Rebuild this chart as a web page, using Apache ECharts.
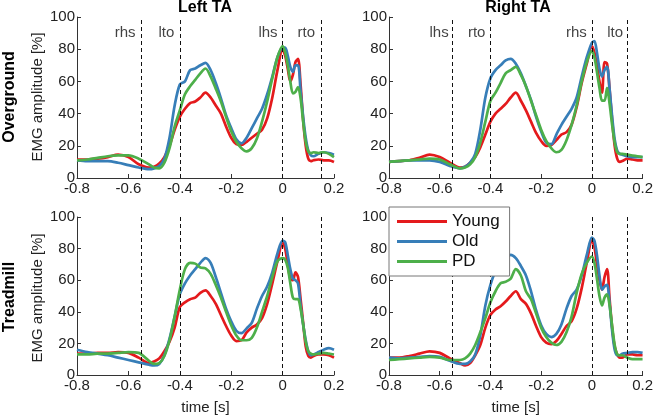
<!DOCTYPE html>
<html>
<head>
<meta charset="utf-8">
<script src="https://cdn.jsdelivr.net/npm/echarts@6/dist/echarts.min.js"></script>
<style>html,body{margin:0;padding:0;background:#fff}#c{width:656px;height:416px}</style>
</head>
<body>
<div id="c"></div>
<script>
// ---------- data ----------
const time = [-0.8,-0.76,-0.72,-0.68,-0.64,-0.6,-0.56,-0.52,-0.5,-0.48,-0.46,-0.44,-0.42,-0.4,-0.38,-0.36,-0.34,-0.32,-0.3,-0.28,-0.26,-0.24,-0.22,-0.2,-0.18,-0.16,-0.14,-0.12,-0.1,-0.08,-0.06,-0.04,-0.02,0,0.01,0.02,0.03,0.04,0.05,0.06,0.07,0.08,0.09,0.1,0.11,0.12,0.14,0.16,0.18,0.2];

const groups = ['Young','Old','PD'];
const columns = ['Left TA','Right TA'];
const rows = ['Overground','Treadmill'];

// Overground, Left TA
const ogLeftYoung = [11.5,11.5,12,13,14.5,13,8.5,6.5,7,9,13,20,30,38,43,46.5,47.5,50,53,50,45,40,32,25,21,20.5,22.5,25,27.5,30,37,50,67,80,76,68,60,64,72,74,58,36,20,12,10.5,11,11.5,11,11,10];
const ogLeftOld = [11,10.5,10.5,10.5,9.5,8,6.5,5.5,6,7.5,12,25,45,58,60,67,68,70,71.5,67,59,49.5,39,31,24,21.5,25,31,37,43,52,63,75,81,81,76,69,66,70,70,54,38,25,17,14,13.5,15,16,15.5,14.5];
const ogLeftPD = [11,11.5,12.5,13.5,14,14,12,8.5,6.5,6,9.5,18.5,32,42,52,57,61,65,68,63,55.5,47.5,38,29,22.5,18.5,16.5,18.5,24.5,35,47.5,62,75,82,78,70,60,52.5,53.5,56.5,49.5,35,22.5,16.5,15.5,16,15.5,16,15,13];

// Overground, Right TA
const ogRightYoung = [10,10.5,11,12.5,14.5,13,9.5,6.5,7,9.5,13,19,27,35,40,43,46,50,53,48,42,35,28,23,20,20.5,23.5,27,28.5,33,44,59,71,82,78,70,60,53,72,71,55,36,20,12,10,10.5,12,11.5,11,11];
const ogRightOld = [10,10.5,11,11,11,10,7.5,6,7,9.5,15,30,50,62,67,70,73,74,71,65,57,48.5,38,29,22,21,27,33,38,43,50,63,75,84,85,78,68,63,67,69,55,38,24,17,15,14.5,13.5,13,13,13];
const ogRightPD = [10,10.5,11,11.5,12,11.5,8.5,6,6.5,8.5,13,22,35,48,53,59,65,67,69,64,57,48,39,30,23,18.5,16,17.5,23.5,33,45,60,72,79,75,66,56,48,48,56,46,33,22,16,15,15,14.5,14,13.5,13];

// Treadmill, Left TA
const tmLeftYoung = [13.5,13.5,14,14,14.5,14,11,7.5,8.5,10.5,15,21,30,43,46,48,49,52,53.5,50,45,38,31,25,21.5,22,27,30,32,36,45,58,72,84,80,70,61,60,65,62,48,33,18,12,11,12,13,13,12.5,11];
const tmLeftOld = [16,14.5,13.5,12.5,11,9.5,8,6.5,6,7,12.5,23,37,51,58,63,67,71,74,71,62,52,42,34,28,26.5,29.5,33,42,50,56,65,77,85,84,76,67,61,60,58,44,32,22,15,12.5,13,14.5,16,17,16];
const tmLeftPD = [13,13,13.5,13.5,14,14.5,14,9,7,7.5,12,22,37,54,67,71,70.5,68,67.5,64,57,49,40,31.5,25,22,22,23.5,30,40,50,62,72,74,73,68,58,49,48,48,42,32,21,15,13.5,13,13.5,14,13.5,13];

// Treadmill, Right TA
const tmRightYoung = [11,11,12,13.5,15,14,10.5,7.5,6,7.5,12.5,19,30,38,41.5,43.5,46.5,50,53,48,45,39,31,24,20.5,19.5,21.5,26,31,34,42,55,71,85,81,70,60,54,62,67,48,30,18,13,11,11,13,13,12.5,12.5];
const tmRightOld = [11,10.5,11,11.5,12,11.5,9,7,7,8.5,13,25,44,57,66,72,74,76,74,69,63,53,41,31.5,26,24,26,32,42,50,54,63,76,87,85,76,63,54,56,57,45,28,16,12.5,12.5,13.5,14,14.5,14.5,14];
const tmRightPD = [9.5,10,10.5,11,11.5,11,9.5,9.5,10.5,13.5,19,27,36,46,53,58,59,61,67,63,53,48,39,30,24,20.5,19,21,27,37,52,64,71,75,71,61,50,44,49,51,44,31,19,13,12.5,12.5,11,10,10,10];

// gait events (dashed lines)
const leftEventNames = ['rhs','lto','lhs','rto'];
const leftEventTimes = [-0.553,-0.402,0,0.146];
const rightEventNames = ['lhs','rto','rhs','lto'];
const rightEventTimes = [-0.545,-0.4,0,0.143];
const eventLabelLevel = 90;

const xTicks = {min:-0.8, max:0.2, interval:0.2};
const yTicks = {min:0, max:100, interval:20};

// ---------- chart ----------
const colors = ['#e41a1c','#377eb8','#4daf4a'];
const FONT = "'Liberation Sans', Arial, Helvetica, sans-serif";
const panelData = [
  [ogLeftYoung, ogLeftOld, ogLeftPD],
  [ogRightYoung, ogRightOld, ogRightPD],
  [tmLeftYoung, tmLeftOld, tmLeftPD],
  [tmRightYoung, tmRightOld, tmRightPD]
];
const grids = [
  {left:77, top:17, width:257, height:161},
  {left:389, top:17, width:258, height:161},
  {left:77, top:217, width:257, height:162},
  {left:389, top:217, width:258, height:162}
];
const axisCol = '#333';
const xAxes = [], yAxes = [], series = [];
grids.forEach((g,p)=>{
  const bottom = p >= 2;
  xAxes.push({
    type:'value', gridIndex:p, min:xTicks.min, max:xTicks.max, interval:xTicks.interval,
    name: bottom ? 'time [s]' : '', nameLocation:'middle', nameGap:25,
    nameTextStyle:{fontFamily:FONT, fontSize:15, color:'#222'},
    axisLine:{show:true, onZero:false, lineStyle:{color:axisCol, width:1}},
    axisTick:{show:true, inside:true, length:4, lineStyle:{color:axisCol}},
    axisLabel:{fontFamily:FONT, fontSize:15, color:'#222', margin:3,
      formatter:v=>{const r=Math.round(v*10)/10; return r===0?'0':String(r);}},
    splitLine:{show:false}
  });
  yAxes.push({
    type:'value', gridIndex:p, min:yTicks.min, max:yTicks.max, interval:yTicks.interval,
    axisLine:{show:true, onZero:false, lineStyle:{color:axisCol, width:1}},
    axisTick:{show:true, inside:true, length:4, lineStyle:{color:axisCol}},
    axisLabel:{fontFamily:FONT, fontSize:15, color:'#222', margin:2},
    splitLine:{show:false}
  });
  const isLeft = (p % 2 === 0);
  const evT = isLeft ? leftEventTimes : rightEventTimes;
  const evN = isLeft ? leftEventNames : rightEventNames;
  groups.forEach((name,k)=>{
    const s = {
      type:'line', name, xAxisIndex:p, yAxisIndex:p,
      data: time.map((t,i)=>[t, panelData[p][k][i]]),
      symbol:'none', smooth:0.3, z:3,
      lineStyle:{width:2.7, color:colors[k]}, itemStyle:{color:colors[k]},
      animation:false
    };
    if (k === 0) {
      s.markLine = {
        silent:true, symbol:'none', animation:false,
        lineStyle:{type:[4,3], color:'#111', width:1},
        label:{show:false},
        data: evT.map(t=>({xAxis:t}))
      };
    }
    series.push(s);
  });
  if (p < 2) {
    series.push({
      type:'scatter', xAxisIndex:p, yAxisIndex:p, symbolSize:0, silent:true,
      data: evT.map((t,i)=>({value:[t, eventLabelLevel], name:evN[i]})),
      label:{show:true, position:'left', distance:5, formatter:'{b}',
        fontFamily:FONT, fontSize:15, color:'#111'},
      animation:false
    });
  }
});

const graphic = [
  {type:'text', x:205, y:8, style:{text:columns[0], font:"bold 16px "+FONT, fill:'#000', textAlign:'center', textVerticalAlign:'middle'}},
  {type:'text', x:518, y:8, style:{text:columns[1], font:"bold 16px "+FONT, fill:'#000', textAlign:'center', textVerticalAlign:'middle'}},
  {type:'text', x:10, y:97, rotation:Math.PI/2, style:{text:rows[0], font:"bold 16px "+FONT, fill:'#000', textAlign:'center', textVerticalAlign:'middle'}},
  {type:'text', x:10, y:297, rotation:Math.PI/2, style:{text:rows[1], font:"bold 16px "+FONT, fill:'#000', textAlign:'center', textVerticalAlign:'middle'}},
  {type:'text', x:38, y:97, rotation:Math.PI/2, style:{text:'EMG amplitude [%]', font:"15px "+FONT, fill:'#222', textAlign:'center', textVerticalAlign:'middle'}},
  {type:'text', x:38, y:298, rotation:Math.PI/2, style:{text:'EMG amplitude [%]', font:"15px "+FONT, fill:'#222', textAlign:'center', textVerticalAlign:'middle'}}
];

const chart = echarts.init(document.getElementById('c'), null, {renderer:'canvas'});
chart.setOption({
  animation:false,
  backgroundColor:'#fff',
  grid: grids,
  xAxis: xAxes,
  yAxis: yAxes,
  series,
  graphic,
  legend:{
    data:groups, orient:'vertical', left:389, top:207,
    icon:'rect', itemWidth:50, itemHeight:3, itemGap:3,
    padding:[6,10,6,8], backgroundColor:'#fff', borderColor:'#777', borderWidth:1, borderRadius:0,
    textStyle:{fontFamily:FONT, fontSize:17, color:'#111', lineHeight:16},
    selectedMode:false, z:10
  }
});
</script>
</body>
</html>
